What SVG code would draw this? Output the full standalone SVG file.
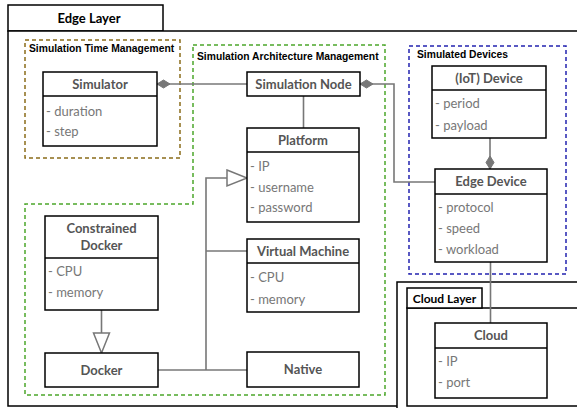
<svg xmlns="http://www.w3.org/2000/svg" width="577" height="408" viewBox="0 0 577 408">
<style>
.frame{fill:#fff;stroke:#000;stroke-width:1.5}
.box{fill:#fff;stroke:#000;stroke-width:1.5}
.pkg{font-family:Lato,"Liberation Sans",sans-serif;font-weight:bold;font-size:12px;fill:#000;text-anchor:middle}
.grp{font-family:"Liberation Sans",Arial,sans-serif;font-weight:bold;font-size:10.3px;fill:#000}
.title{font-family:Lato,"Liberation Sans",sans-serif;font-weight:bold;font-size:13px;fill:#555;text-anchor:middle}
.attr{font-family:Lato,"Liberation Sans",sans-serif;font-size:13px;fill:#777}
.conn{fill:none;stroke:#777;stroke-width:1.6}
</style>
<defs>
<marker id="diamond" markerUnits="userSpaceOnUse" markerWidth="14" markerHeight="10" refX="0" refY="5" viewBox="0 0 14 10" orient="auto">
<path d="M0,5 L6.5,1 L13,5 L6.5,9 z" fill="#777" stroke="#777" stroke-width="1"/>
</marker>
<marker id="tri" markerUnits="userSpaceOnUse" markerWidth="24" markerHeight="20" refX="21" refY="10" viewBox="0 0 24 20" orient="auto">
<path d="M1,2 L21,10 L1,18 z" fill="#fff" stroke="#777" stroke-width="1.5"/>
</marker>
</defs>

<g id="edge-layer">
<rect class="frame" x="8" y="5" width="155" height="26"/>
<rect class="frame" x="8" y="31" width="620" height="375"/>
<text class="pkg" x="89" y="22.5" style="font-size:13px">Edge Layer</text>
</g>

<g id="cloud-layer">
<rect class="frame" x="397" y="282" width="220" height="160"/>
<rect class="frame" x="407" y="308" width="210" height="98"/>
<rect class="frame" x="407" y="288" width="75" height="20"/>
<text class="pkg" x="444.5" y="302.5">Cloud Layer</text>
</g>

<g id="sim-time-mgmt">
<rect x="25" y="40" width="155" height="118" fill="none" stroke="#8B6C1A" stroke-width="1.5" stroke-dasharray="4,3"/>
<text class="grp" x="29" y="52">Simulation Time Management</text>
</g>

<g id="sim-arch-mgmt">
<path d="M193,45 H385 V395 H25 V204 H193 Z" fill="none" stroke="#4CA62B" stroke-width="1.5" stroke-dasharray="4,3"/>
<text class="grp" x="197" y="60">Simulation Architecture Management</text>
</g>

<g id="simulated-devices">
<rect x="409" y="46" width="157" height="228" fill="none" stroke="#2323B0" stroke-width="1.5" stroke-dasharray="4,3"/>
<text class="grp" x="417" y="58">Simulated Devices</text>
</g>

<g id="connectors">
<path class="conn" d="M157,84 H247" marker-start="url(#diamond)"/>
<path class="conn" d="M360,84 H394 V182 H435" marker-start="url(#diamond)"/>
<path class="conn" d="M303.5,96 V128"/>
<path class="conn" d="M490,169 V138" marker-start="url(#diamond)"/>
<path class="conn" d="M490.5,262 V323"/>
<path class="conn" d="M101.5,310 V353" marker-end="url(#tri)"/>
<path class="conn" d="M206,370 V178 H247" marker-end="url(#tri)"/>
<path class="conn" d="M158,370 H247"/>
<path class="conn" d="M206,251 H247"/>
</g>

<g id="simulator">
<rect class="box" x="43" y="72" width="114" height="74"/>
<line class="box" x1="43" y1="96" x2="157" y2="96"/>
<text class="title" x="100" y="88.5">Simulator</text>
<text class="attr" x="46" y="116">- duration</text>
<text class="attr" x="46" y="136">- step</text>
</g>

<g id="simulation-node">
<rect class="box" x="247" y="72" width="113" height="24"/>
<text class="title" x="303.5" y="88.5">Simulation Node</text>
</g>

<g id="platform">
<rect class="box" x="247" y="128" width="112" height="94"/>
<line class="box" x1="247" y1="152" x2="359" y2="152"/>
<text class="title" x="303" y="144.5">Platform</text>
<text class="attr" x="250" y="171">- IP</text>
<text class="attr" x="250" y="191.5">- username</text>
<text class="attr" x="250" y="212">- password</text>
</g>

<g id="iot-device">
<rect class="box" x="432" y="66" width="114" height="72"/>
<line class="box" x1="432" y1="90" x2="546" y2="90"/>
<text class="title" x="489" y="82.5">(IoT) Device</text>
<text class="attr" x="435" y="108">- period</text>
<text class="attr" x="435" y="129.5">- payload</text>
</g>

<g id="edge-device">
<rect class="box" x="435" y="169" width="112" height="93"/>
<line class="box" x1="435" y1="194" x2="547" y2="194"/>
<text class="title" x="491" y="186">Edge Device</text>
<text class="attr" x="438" y="212">- protocol</text>
<text class="attr" x="438" y="233">- speed</text>
<text class="attr" x="438" y="253.5">- workload</text>
</g>

<g id="cloud">
<rect class="box" x="435" y="323" width="112" height="75"/>
<line class="box" x1="435" y1="348" x2="547" y2="348"/>
<text class="title" x="491" y="340">Cloud</text>
<text class="attr" x="438" y="366">- IP</text>
<text class="attr" x="438" y="386.5">- port</text>
</g>

<g id="constrained-docker">
<rect class="box" x="45" y="216" width="113" height="94"/>
<line class="box" x1="45" y1="258" x2="158" y2="258"/>
<text class="title" x="101.5" y="233">Constrained</text>
<text class="title" x="101.5" y="250">Docker</text>
<text class="attr" x="48" y="275.5">- CPU</text>
<text class="attr" x="48" y="297">- memory</text>
</g>

<g id="docker">
<rect class="box" x="45" y="353" width="113" height="34"/>
<text class="title" x="101.5" y="374.5">Docker</text>
</g>

<g id="virtual-machine">
<rect class="box" x="247" y="239" width="112" height="73"/>
<line class="box" x1="247" y1="263" x2="359" y2="263"/>
<text class="title" x="303" y="255.5">Virtual Machine</text>
<text class="attr" x="250" y="282">- CPU</text>
<text class="attr" x="250" y="304">- memory</text>
</g>

<g id="native">
<rect class="box" x="247" y="352" width="112" height="35"/>
<text class="title" x="303" y="374">Native</text>
</g>
</svg>
